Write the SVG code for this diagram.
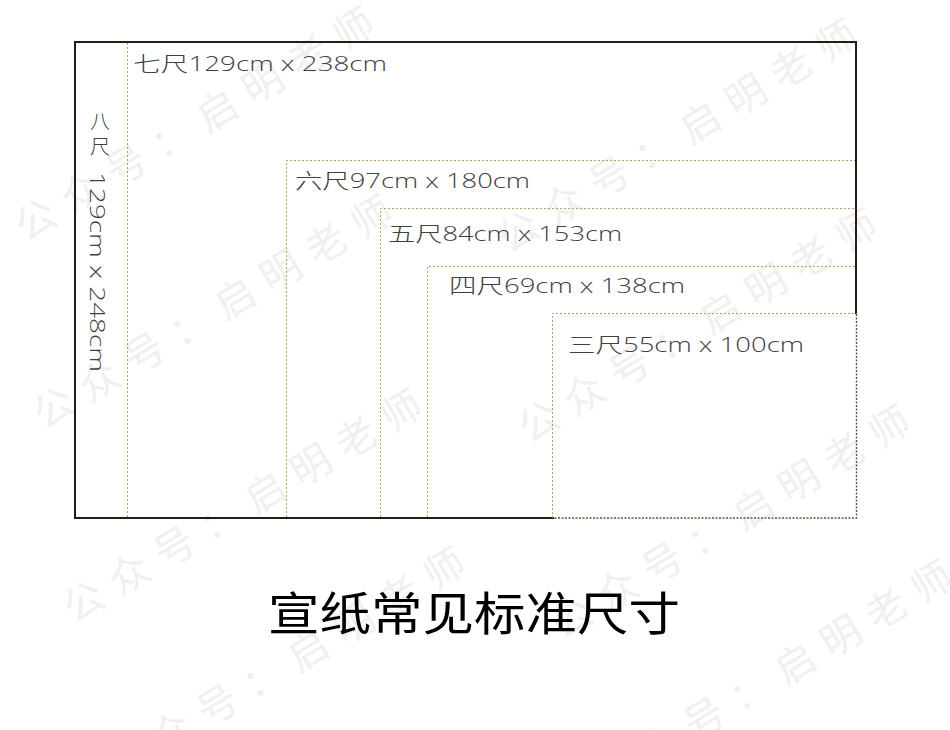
<svg xmlns="http://www.w3.org/2000/svg" width="950" height="730" viewBox="0 0 950 730">
  <style>
    .wm { font-family: "Noto Sans CJK SC", sans-serif; font-size: 40px; letter-spacing: 13px; fill: #f0f0f0; }
    .solid { fill: none; stroke: #2a1a10; stroke-width: 2; stroke-linecap: square; }
    .dot { fill: none; stroke: #c49a58; stroke-width: 1; stroke-dasharray: 2 2; }
    .dotdark { fill: none; stroke: #6a4e30; stroke-width: 1.4; stroke-dasharray: 2 1.5; }
    .lbl { font-family: "Open Sans", "Noto Sans CJK SC", sans-serif; font-weight: 300; font-size: 21px; fill: #404040; }
    .vch { font-family: "Noto Sans CJK SC", sans-serif; font-weight: 300; font-size: 20px; fill: #404040; writing-mode: vertical-rl; letter-spacing: 5px; }
    .title { font-family: "Noto Sans CJK SC", sans-serif; font-weight: 400; font-size: 46px; fill: #000; }
  </style>
  <rect width="950" height="730" fill="#ffffff"/>

  <g id="watermarks">
    <text class="wm" transform="translate(217,110) rotate(-31)" x="-232" y="15">公众号：启明老师</text>
    <text class="wm" transform="translate(235,298) rotate(-31)" x="-232" y="15">公众号：启明老师</text>
    <text class="wm" transform="translate(265,492) rotate(-31)" x="-232" y="15">公众号：启明老师</text>
    <text class="wm" transform="translate(308,650) rotate(-31)" x="-232" y="15">公众号：启明老师</text>
    <text class="wm" transform="translate(700,122) rotate(-31)" x="-232" y="15">公众号：启明老师</text>
    <text class="wm" transform="translate(720,312) rotate(-31)" x="-232" y="15">公众号：启明老师</text>
    <text class="wm" transform="translate(753,508) rotate(-31)" x="-232" y="15">公众号：启明老师</text>
    <text class="wm" transform="translate(795,663) rotate(-31)" x="-232" y="15">公众号：启明老师</text>
  </g>

  <g id="connectors"></g>

  <g id="ba-chi">
    <path class="solid" d="M856,313 V42 H75 V518 H553"/>
    <text class="vch" x="100" y="111">八尺</text>
    <text class="lbl" transform="translate(90,172) rotate(90)" x="0" y="0" textLength="200" lengthAdjust="spacingAndGlyphs">129cm x 248cm</text>
  </g>

  <g id="qi-chi">
    <line class="dot" x1="127.5" y1="43" x2="127.5" y2="517"/>
    <text class="lbl" x="133" y="71" textLength="254" lengthAdjust="spacingAndGlyphs">七尺129cm x 238cm</text>
  </g>

  <g id="liu-chi">
    <path class="dot" d="M286.5,517 V160.5 H855"/>
    <text class="lbl" x="295" y="188" textLength="235" lengthAdjust="spacingAndGlyphs">六尺97cm x 180cm</text>
  </g>

  <g id="wu-chi">
    <path class="dot" d="M380.5,517 V208.5 H855"/>
    <text class="lbl" x="388" y="241" textLength="234" lengthAdjust="spacingAndGlyphs">五尺84cm x 153cm</text>
  </g>

  <g id="si-chi">
    <path class="dot" d="M427.5,517 V266.5 H855"/>
    <text class="lbl" x="449" y="293" textLength="236" lengthAdjust="spacingAndGlyphs">四尺69cm x 138cm</text>
  </g>

  <g id="san-chi">
    <path class="dot" d="M552.5,518 V313.5 H856.5"/>
    <path class="dotdark" d="M856.5,314 V518 H553"/>
    <text class="lbl" x="568" y="352" textLength="236" lengthAdjust="spacingAndGlyphs">三尺55cm x 100cm</text>
  </g>

  <g id="title">
    <text class="title" x="268" y="630" textLength="412" lengthAdjust="spacingAndGlyphs">宣纸常见标准尺寸</text>
  </g>
</svg>
